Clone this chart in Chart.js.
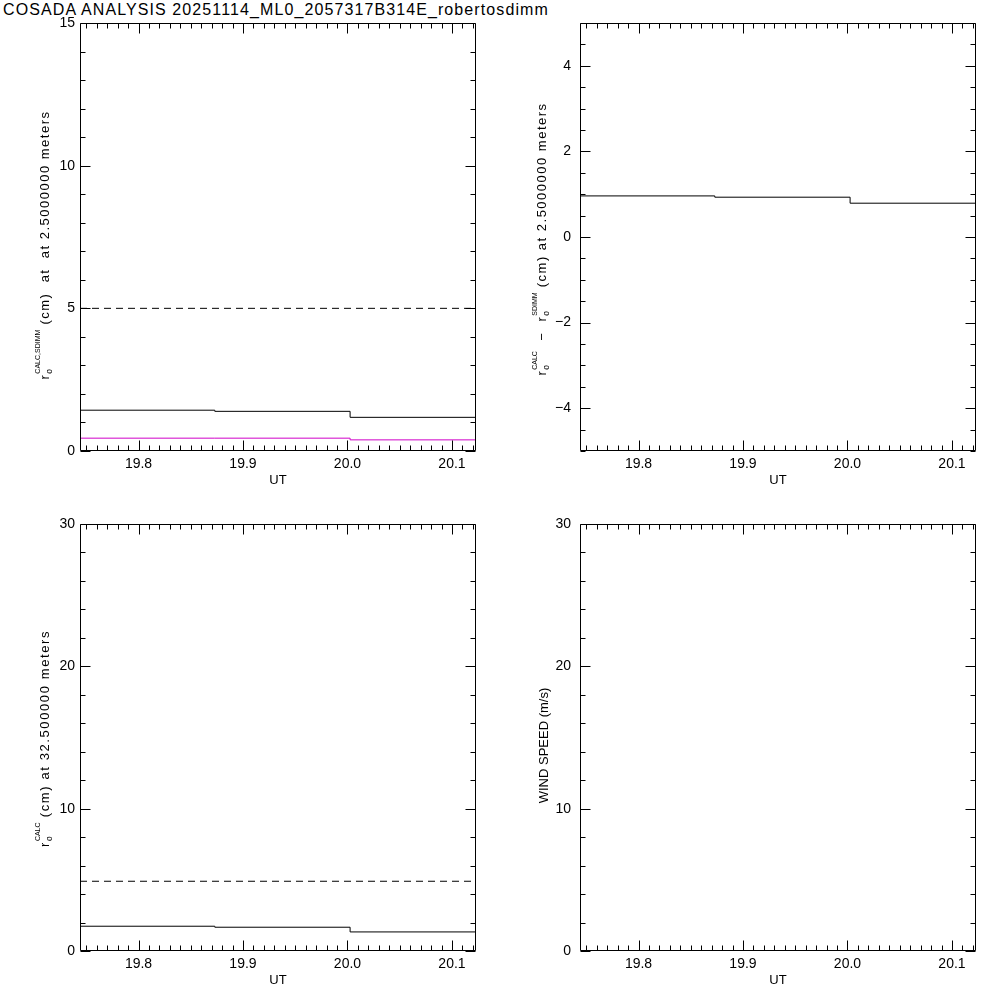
<!DOCTYPE html>
<html>
<head>
<meta charset="utf-8">
<script src="https://cdn.jsdelivr.net/npm/chart.js@4.4.1/dist/chart.umd.min.js"></script>
<style>
  body { margin: 0; background: #fff; width: 1000px; height: 1000px; position: relative; overflow: hidden; }
  #title { position: absolute; left: 3px; top: 1px; font: 16px "Liberation Sans", Arial, sans-serif; letter-spacing: 1.1px; color: #000; white-space: nowrap; }
  canvas { position: absolute; }
</style>
</head>
<body>
<div id="title">COSADA ANALYSIS 20251114_ML0_2057317B314E_robertosdimm</div>
<canvas id="c1" width="500" height="500" style="left:0;top:0"></canvas>
<canvas id="c2" width="500" height="500" style="left:500px;top:0"></canvas>
<canvas id="c3" width="500" height="500" style="left:0;top:500px"></canvas>
<canvas id="c4" width="500" height="500" style="left:500px;top:500px"></canvas>
<script>
// UT sample edges (hours) and values
let ut = [19.744, 19.873, 20.0025, 20.123];
let r0Calc = [1.43, 1.39, 1.18, 1.18];      // black, 2.5 m
let r0Sdimm = [0.45, 0.45, 0.39, 0.39];     // magenta
let r0Diff = [0.96, 0.93, 0.79, 0.79];      // calc - sdimm
let r0Calc32 = [1.74, 1.67, 1.34, 1.34];    // black, 32.5 m
let r0Limit = 5;
let r0Limit32 = 4.9;
let windSpeed = [];

let utRange = [19.744, 20.123];
let utTicks = [19.8, 19.9, 20.0, 20.1];
let r0Ticks = [0, 5, 10, 15];
let diffTicks = [-4, -2, 0, 2, 4];
let r0Ticks32 = [0, 10, 20, 30];
let windTicks = [0, 10, 20, 30];

const FONT = '"Liberation Sans", Arial, sans-serif';

function pts(vals) {
    return vals.map((v, i) => ({ x: ut[i], y: v }));
}
function flat(v) {
    return utRange.map(t => ({ x: t, y: v }));
}
function step(vals, color) {
    // 'before': each value is held until the next sample time
    return { data: pts(vals), borderColor: color, borderWidth: 1, pointRadius: 0, stepped: 'before', fill: false };
}
function dashed(v) {
    return { data: flat(v), borderColor: '#000', borderWidth: 1, pointRadius: 0, borderDash: [7, 5], fill: false };
}

// draws a rotated y label made of normal / sub / super parts
function drawLabel(ctx, parts, cx, cy, spacing) {
    const size = p => p.sup ? 7 : p.sub ? 8.5 : 13;
    const setFont = p => {
        ctx.font = size(p) + 'px ' + FONT;
        ctx.letterSpacing = (p.sup || p.sub) ? '0px' : spacing;
    };
    ctx.save();
    let w = 0;
    parts.forEach(p => {
        setFont(p);
        if (!p.keep) w += ctx.measureText(p.t).width;
    });
    ctx.translate(cx, cy);
    ctx.rotate(-Math.PI / 2);
    ctx.fillStyle = '#000';
    ctx.textBaseline = 'middle';
    let x = -w / 2;
    parts.forEach(p => {
        setFont(p);
        let dy = p.sup ? -7 : p.sub ? 5 : 0;
        ctx.fillText(p.t, x, dy);
        if (!p.keep) x += ctx.measureText(p.t).width;
    });
    ctx.restore();
}

// IDL style box with inward major/minor ticks on all sides
const frame = {
    id: 'frame',
    afterDatasetsDraw(chart, args, o) {
        const { ctx, chartArea: a, scales: { x, y } } = chart;
        const L = Math.round(a.left) + 0.5, R = Math.round(a.right) - 0.5;
        const T = Math.round(a.top) + 0.5, B = Math.round(a.bottom) - 0.5;
        ctx.save();
        ctx.strokeStyle = '#000';
        ctx.lineWidth = 1;
        ctx.beginPath();
        ctx.rect(L, T, R - L, B - T);
        for (let i = Math.ceil(utRange[0] * 100); i <= Math.floor(utRange[1] * 100); i++) {
            const px = Math.round(x.getPixelForValue(i / 100)) + 0.5;
            const len = i % 10 === 0 ? 10 : 5;
            ctx.moveTo(px, B); ctx.lineTo(px, B - len);
            ctx.moveTo(px, T); ctx.lineTo(px, T + len);
        }
        for (let i = Math.ceil(y.min / o.minor - 1e-6); i * o.minor <= y.max + 1e-6; i++) {
            const v = i * o.minor;
            const py = Math.round(y.getPixelForValue(v)) + 0.5;
            const len = o.ticks.some(t => Math.abs(t - v) < 1e-6) ? 10 : 5;
            ctx.moveTo(L, py); ctx.lineTo(L + len, py);
            ctx.moveTo(R, py); ctx.lineTo(R - len, py);
        }
        ctx.stroke();
        ctx.restore();
        drawLabel(ctx, o.label, o.labelX, (a.top + a.bottom) / 2 + o.labelDy, o.spacing);
    }
};

function panel(id, p) {
    return new Chart(document.getElementById(id), {
        type: 'line',
        data: { datasets: p.datasets },
        options: {
            responsive: false,
            animation: false,
            layout: { padding: { top: p.top, right: 24, left: 0, bottom: 0 } },
            plugins: {
                legend: { display: false },
                tooltip: { enabled: false },
                frame: { minor: p.minor, ticks: p.ticks, label: p.label, labelX: p.labelX, labelDy: p.labelDy, spacing: p.spacing }
            },
            scales: {
                x: {
                    type: 'linear', min: utRange[0], max: utRange[1],
                    grid: { display: false, drawTicks: false }, border: { display: false },
                    afterBuildTicks: s => { s.ticks = utTicks.map(v => ({ value: v })); },
                    afterFit: s => { s.height = 49; },
                    ticks: { color: '#000', font: { family: FONT, size: 14 }, padding: 5, maxRotation: 0, autoSkip: false,
                             callback: v => v.toFixed(1) },
                    title: { display: true, text: 'UT', color: '#000', font: { family: FONT, size: 13 }, padding: { top: 0, bottom: 12 } }
                },
                y: {
                    type: 'linear', min: p.range[0], max: p.range[1],
                    grid: { display: false, drawTicks: false }, border: { display: false },
                    afterBuildTicks: s => { s.ticks = p.ticks.map(v => ({ value: v })); },
                    afterFit: s => { s.width = 80; },
                    ticks: { color: '#000', font: { family: FONT, size: 14 }, padding: p.pad, autoSkip: false,
                             callback: v => String(v).replace('-', '\u2212') }
                }
            }
        },
        plugins: [frame]
    });
}

panel('c1', {
    top: 23, range: [0, 15], ticks: r0Ticks, minor: 1, pad: 5, labelX: 45, labelDy: 8, spacing: '1.5px',
    datasets: [dashed(r0Limit), step(r0Calc, '#000'), step(r0Sdimm, '#d000c8')],
    label: [{ t: 'r' }, { t: 'o', sub: true, keep: true }, { t: 'CALC,SDIMM', sup: true },
            { t: ' (cm)  at  at 2.5000000 meters' }]
});
panel('c2', {
    top: 23, range: [-5, 5], ticks: diffTicks, minor: 0.5, pad: 9, labelX: 42, labelDy: 2, spacing: '1.5px',
    datasets: [step(r0Diff, '#000')],
    label: [{ t: 'r' }, { t: 'o', sub: true, keep: true }, { t: 'CALC', sup: true },
            { t: '  \u2212  r' }, { t: 'o', sub: true, keep: true }, { t: 'SDIMM', sup: true },
            { t: ' (cm) at 2.5000000 meters' }]
});
panel('c3', {
    top: 24, range: [0, 30], ticks: r0Ticks32, minor: 2, pad: 5, labelX: 45, labelDy: 1, spacing: '1.6px',
    datasets: [dashed(r0Limit32), step(r0Calc32, '#000')],
    label: [{ t: 'r' }, { t: 'o', sub: true, keep: true }, { t: 'CALC', sup: true },
            { t: ' (cm) at 32.500000 meters' }]
});
panel('c4', {
    top: 24, range: [0, 30], ticks: windTicks, minor: 2, pad: 9, labelX: 44, labelDy: 8, spacing: '0px',
    datasets: [step(windSpeed, '#000')],
    label: [{ t: 'WIND SPEED (m/s)' }]
});
</script>
</body>
</html>
